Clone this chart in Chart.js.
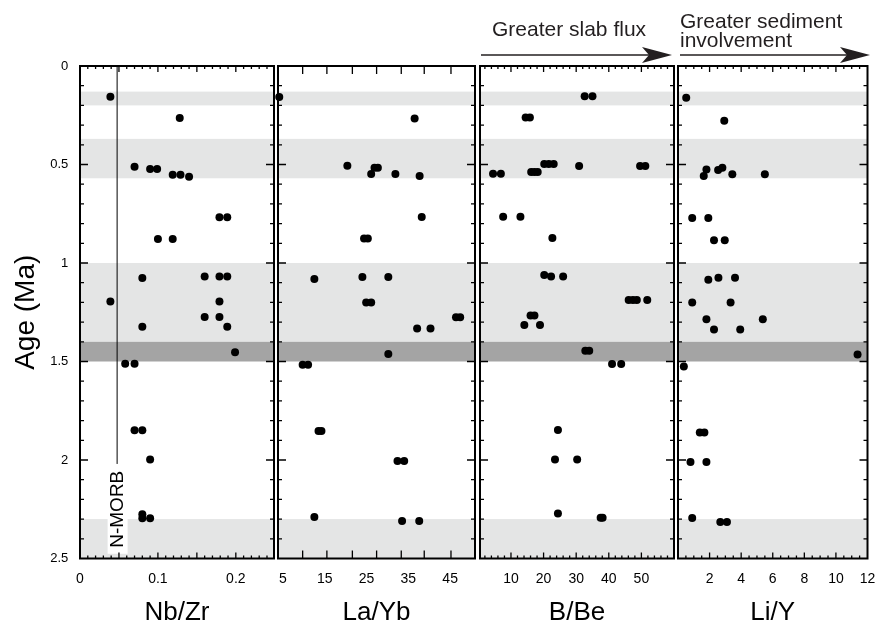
<!DOCTYPE html>
<html lang="en">
<head>
<meta charset="UTF-8">
<title>Age vs Nb/Zr, La/Yb, B/Be, Li/Y</title>
<script src="https://cdn.jsdelivr.net/npm/chart.js"></script>
<style>
  body { margin: 0; background: #fff; }
  #wrap { position: relative; width: 880px; height: 626px; overflow: hidden; }
  #wrap canvas { position: absolute; top: 0; }
</style>
</head>
<body>
<div id="wrap">
  <canvas id="nbzr" width="278" height="626" style="left:0px"></canvas>
  <canvas id="layb" width="205" height="626" style="left:274px"></canvas>
  <canvas id="bbe" width="202" height="626" style="left:476px"></canvas>
  <canvas id="liy" width="206" height="626" style="left:674px"></canvas>
</div>

<script>
const FONT = '"Liberation Sans", Arial, Helvetica, sans-serif';
Chart.defaults.font.family = FONT;
Chart.defaults.color = '#000';

// shared age axis (Ma)
const AGE_LABELS = [0, 0.5, 1, 1.5, 2, 2.5];
const LIGHT_BANDS = [[0.13, 0.2], [0.37, 0.57], [1.0, 1.4], [2.3, 2.5]];
const DARK_BAND = [1.4, 1.5];

// Nb/Zr
const nbzrTicks = [0, 0.1, 0.2];
const nbzrValues = [0.039, 0.128, 0.070, 0.090, 0.099, 0.119, 0.129, 0.140, 0.179, 0.189,
  0.100, 0.119, 0.080, 0.160, 0.179, 0.189, 0.039, 0.179, 0.160, 0.179,
  0.080, 0.189, 0.199, 0.058, 0.070, 0.070, 0.080, 0.090, 0.080, 0.080, 0.090];
const nbzrAges = [0.156, 0.264, 0.511, 0.523, 0.523, 0.552, 0.552, 0.562, 0.768, 0.768,
  0.878, 0.878, 1.076, 1.068, 1.068, 1.068, 1.195, 1.195, 1.274, 1.274,
  1.323, 1.323, 1.453, 1.511, 1.511, 1.849, 1.849, 1.997, 2.276, 2.296, 2.296];
const NMORB = 0.047;

// La/Yb
const laybTicks = [5, 15, 25, 35, 45];
const laybTickMarks = [9.7, 15.5, 21.6, 27.4, 33.3, 38.8, 45.2];
const laybValues = [4.1, 36.5, 20.4, 26.9, 27.7, 26.1, 31.9, 37.7, 38.2, 24.4,
  25.3, 12.5, 24.0, 30.2, 24.9, 26.1, 46.4, 47.4, 37.1, 40.3,
  30.2, 9.7, 11.0, 13.5, 14.2, 32.4, 34.0, 12.5, 33.5, 37.6];
const laybAges = [0.157, 0.267, 0.506, 0.516, 0.516, 0.548, 0.548, 0.558, 0.766, 0.875,
  0.875, 1.081, 1.071, 1.071, 1.2, 1.2, 1.276, 1.276, 1.332, 1.332,
  1.462, 1.516, 1.516, 1.853, 1.853, 2.005, 2.005, 2.289, 2.31, 2.31];

// B/Be
const bbeTicks = [10, 20, 30, 40, 50];
const bbeValues = [32.6, 35.0, 14.5, 15.8, 4.5, 6.9, 16.2, 17.2, 18.2, 20.2,
  21.6, 23.1, 30.9, 49.6, 51.2, 7.6, 12.9, 22.7, 20.2, 22.3,
  26.0, 46.1, 47.4, 48.6, 51.8, 16.0, 17.2, 14.1, 18.9, 32.8,
  34.0, 41.0, 43.8, 24.4, 23.5, 30.3, 24.4, 37.5, 38.1];
const bbeAges = [0.154, 0.154, 0.262, 0.262, 0.547, 0.547, 0.538, 0.538, 0.538, 0.497,
  0.497, 0.497, 0.508, 0.508, 0.508, 0.765, 0.765, 0.873, 1.061, 1.069,
  1.069, 1.188, 1.188, 1.188, 1.188, 1.266, 1.266, 1.315, 1.315, 1.445,
  1.445, 1.513, 1.513, 1.848, 1.997, 1.997, 2.272, 2.293, 2.293];

// Li/Y
const liyTicks = [2, 4, 6, 8, 10, 12];
const liyValues = [0.52, 2.93, 1.80, 1.63, 2.54, 2.81, 3.44, 5.50, 0.90, 1.92,
  2.28, 2.96, 1.92, 2.56, 3.61, 0.90, 3.33, 1.80, 5.37, 2.28,
  3.94, 11.37, 0.37, 1.38, 1.67, 0.79, 1.80, 0.90, 2.68, 3.10];
const liyAges = [0.161, 0.278, 0.526, 0.558, 0.528, 0.516, 0.550, 0.550, 0.772, 0.772,
  0.885, 0.885, 1.085, 1.075, 1.075, 1.201, 1.201, 1.286, 1.286, 1.337,
  1.337, 1.464, 1.526, 1.861, 1.861, 2.010, 2.010, 2.294, 2.315, 2.315];

function steps(a, b, step) {
  const out = [];
  for (let v = a; v <= b + 1e-9; v += step) out.push(+v.toFixed(4));
  return out;
}
const AGE_MINOR = steps(0.1, 2.4, 0.1);
const AGE_MAJOR = [0.5, 1, 1.5, 2];

// shading bands, reference line, frame and inward ticks
const panelFrame = {
  id: 'panelFrame',
  beforeDatasetsDraw(chart, args, o) {
    const {ctx, chartArea: a, scales: {x, y}} = chart;
    ctx.save();
    ctx.fillStyle = '#e4e5e5';
    for (const [t, b] of LIGHT_BANDS) {
      const y0 = y.getPixelForValue(t), y1 = y.getPixelForValue(b);
      ctx.fillRect(a.left, y0, a.width, y1 - y0);
    }
    ctx.fillStyle = '#a4a4a4';
    const d0 = y.getPixelForValue(DARK_BAND[0]), d1 = y.getPixelForValue(DARK_BAND[1]);
    ctx.fillRect(a.left, d0, a.width, d1 - d0);

    if (o.refLine) {
      const px = x.getPixelForValue(o.refLine.value);
      ctx.strokeStyle = '#000';
      ctx.lineWidth = 1;
      ctx.beginPath();
      ctx.moveTo(px + 0.5, a.top);
      ctx.lineTo(px + 0.5, y.getPixelForValue(o.refLine.lineEnd));
      ctx.stroke();
      ctx.translate(px, y.getPixelForValue(o.refLine.labelAt));
      ctx.rotate(-Math.PI / 2);
      ctx.font = '19px ' + FONT;
      const w = ctx.measureText(o.refLine.label).width;
      ctx.fillStyle = '#fff';
      ctx.fillRect(-w / 2 - 6, -9, w + 12, 20);
      ctx.fillStyle = '#000';
      ctx.textAlign = 'center';
      ctx.textBaseline = 'middle';
      ctx.fillText(o.refLine.label, 0, 1);
    }
    ctx.restore();
  },
  afterDatasetsDraw(chart, args, o) {
    const {ctx, chartArea: a, scales: {x, y}} = chart;
    ctx.save();
    ctx.strokeStyle = '#000';
    ctx.lineWidth = 1.3;
    ctx.beginPath();
    for (const v of AGE_MINOR) {
      const p = y.getPixelForValue(v);
      const len = AGE_MAJOR.includes(v) ? 8 : 4;
      ctx.moveTo(a.left, p); ctx.lineTo(a.left + len, p);
      ctx.moveTo(a.right, p); ctx.lineTo(a.right - len, p);
    }
    const xTicks = (vals, len) => {
      for (const v of vals) {
        const p = x.getPixelForValue(v);
        if (p < a.left + 1 || p > a.right - 1) continue;
        ctx.moveTo(p, a.top); ctx.lineTo(p, a.top + len);
        ctx.moveTo(p, a.bottom); ctx.lineTo(p, a.bottom - len);
      }
    };
    xTicks(o.xMinor || [], o.minorLen || 3);
    xTicks(o.xMajor || [], o.majorLen || 6);
    ctx.stroke();
    ctx.lineWidth = 2;
    ctx.strokeRect(a.left, a.top, a.width, a.height);
    ctx.restore();
  }
};

// trend note with arrow above a panel
const arrowNote = {
  id: 'arrowNote',
  afterDraw(chart, args, o) {
    if (!o.lines) return;
    const {ctx, chartArea: a} = chart;
    ctx.save();
    ctx.fillStyle = '#231f20';
    ctx.strokeStyle = '#231f20';
    ctx.font = '21px ' + FONT;
    ctx.textBaseline = 'alphabetic';
    o.lines.forEach((t, i) => ctx.fillText(t, a.left + o.textDx, o.baseline + i * o.lineGap));
    const ay = o.arrowY, x0 = a.left + o.fromDx, x1 = a.right + o.toDx;
    ctx.lineWidth = 1.6;
    ctx.beginPath();
    ctx.moveTo(x0, ay); ctx.lineTo(x1 - 20, ay);
    ctx.stroke();
    ctx.beginPath();
    ctx.moveTo(x1, ay);
    ctx.lineTo(x1 - 30, ay - 8);
    ctx.lineTo(x1 - 23, ay);
    ctx.lineTo(x1 - 30, ay + 8);
    ctx.closePath();
    ctx.fill();
    ctx.restore();
  }
};

function makePanel(id, cfg) {
  const points = cfg.values.map((v, i) => ({x: v, y: cfg.ages[i]}));
  return new Chart(document.getElementById(id), {
    type: 'scatter',
    data: {
      datasets: [{
        data: points,
        backgroundColor: '#000',
        borderWidth: 0,
        pointRadius: 4,
        clip: false
      }]
    },
    plugins: [panelFrame, arrowNote],
    options: {
      responsive: false,
      animation: false,
      events: [],
      layout: {padding: {top: 66, bottom: 0, left: cfg.padLeft, right: cfg.padRight}},
      scales: {
        x: {
          type: 'linear',
          position: 'bottom',
          min: cfg.min,
          max: cfg.max,
          afterBuildTicks: s => { s.ticks = cfg.ticks.map(v => ({value: v})); },
          afterFit: s => {
            s.height = 67.5;
            // labels near the edges must not shrink the plot area
            s.paddingLeft = 0;
            s.paddingRight = 0;
          },
          grid: {display: false, drawTicks: false},
          border: {display: false},
          ticks: {
            autoSkip: false, maxRotation: 0, padding: 12,
            font: {size: 14},
            callback: v => String(v)
          },
          title: {
            display: true, text: cfg.title,
            font: {size: 26, lineHeight: 1},
            padding: {top: 0, bottom: 0}
          }
        },
        y: {
          type: 'linear',
          display: !!cfg.showAge,
          reverse: true,
          min: 0,
          max: 2.5,
          afterBuildTicks: s => { s.ticks = AGE_LABELS.map(v => ({value: v})); },
          afterFit: s => { s.width = cfg.showAge ? 80 : 0; },
          grid: {display: false, drawTicks: false},
          border: {display: false},
          ticks: {padding: 11.7, font: {size: 13}, callback: v => String(v)},
          title: {
            display: true, text: 'Age (Ma)',
            font: {size: 28, lineHeight: 1},
            padding: {top: 12, bottom: 0}
          }
        }
      },
      plugins: {
        legend: {display: false},
        tooltip: {enabled: false},
        panelFrame: cfg.frame,
        arrowNote: cfg.note || {}
      }
    }
  });
}

makePanel('nbzr', {
  values: nbzrValues, ages: nbzrAges, ticks: nbzrTicks, title: 'Nb/Zr',
  min: 0, max: 0.249, padLeft: 0, padRight: 4, showAge: true,
  frame: {
    xMinor: steps(0.01, 0.24, 0.01), xMajor: steps(0.05, 0.2, 0.05), minorLen: 3, majorLen: 6,
    refLine: {value: NMORB, lineEnd: 2.02, labelAt: 2.25, label: 'N-MORB'}
  }
});

makePanel('layb', {
  values: laybValues, ages: laybAges, ticks: laybTicks, title: 'La/Yb',
  min: 3.8, max: 50.95, padLeft: 3, padRight: 4,
  frame: {xMajor: laybTickMarks, majorLen: 8}
});

makePanel('bbe', {
  values: bbeValues, ages: bbeAges, ticks: bbeTicks, title: 'B/Be',
  min: 0.5, max: 60, padLeft: 4, padRight: 4,
  frame: {xMinor: steps(2, 58, 2), xMajor: steps(10, 50, 10), minorLen: 3, majorLen: 6},
  note: {lines: ['Greater slab flux'], textDx: 12, baseline: 36, lineGap: 0, arrowY: 55, fromDx: 1, toDx: -2}
});

makePanel('liy', {
  values: liyValues, ages: liyAges, ticks: liyTicks, title: 'Li/Y',
  min: 0, max: 12, padLeft: 3.5, padRight: 12.5,
  frame: {xMinor: steps(0.5, 11.5, 0.5), xMajor: steps(2, 10, 2), minorLen: 3, majorLen: 6},
  note: {lines: ['Greater sediment', 'involvement'], textDx: 2, baseline: 28, lineGap: 18.5, arrowY: 55, fromDx: 2, toDx: 2.5}
});
</script>
</body>
</html>
